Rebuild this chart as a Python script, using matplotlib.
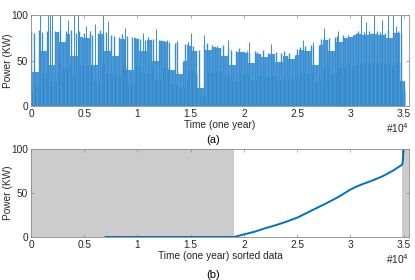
import numpy as np
import matplotlib.pyplot as plt

# (a) power, one value every 250 samples
step_a = 250
power_a = [82, 80, 37, 83, 81, 60, 82, 84, 45, 82,
           81, 84, 70, 82, 79, 83, 55, 80, 82, 76,
           80, 75, 82, 78, 45, 80, 84, 79, 81, 60,
           78, 77, 55, 76, 79, 74, 77, 40, 76, 75,
           75, 74, 60, 73, 76, 72, 74, 50, 72, 73,
           71, 72, 70, 40, 69, 71, 35, 50, 68, 70,
           67, 66, 60, 62, 20, 68, 69, 62, 67, 65,
           66, 64, 67, 55, 63, 62, 45, 60, 64, 59,
           59, 60, 58, 47, 60, 59, 57, 61, 54, 58,
           58, 57, 59, 48, 58, 60, 55, 58, 52, 56,
           63, 65, 62, 66, 60, 67, 66, 45, 67, 74,
           76, 72, 75, 60, 76, 77, 70, 78, 75, 78,
           76, 78, 80, 82, 79, 81, 78, 82, 80, 79,
           82, 81, 78, 80, 83, 75, 81, 80, 82, 80,
           28]
# isolated peaks sticking out of the band
spike_t = [800, 1600, 1800, 2000, 2700, 3500, 4000, 4400, 5200, 6000, 6800, 7200,
           8800, 10500, 11700, 15000, 16200, 18500, 20500, 22500, 25500, 26500,
           27500, 28800, 31000, 31500, 32200, 33000, 33500, 34000, 34300, 34700]
spike_p = [100, 100, 100, 100, 100, 95, 100, 100, 88, 90, 100, 93,
           86, 80, 85, 80, 78, 72, 70, 68, 72, 70,
           86, 82, 100, 92, 100, 95, 100, 100, 88, 100]

# (b) sorted data
sorted_t = [7000, 19070, 20000, 21000, 22000, 23000, 24000, 25000, 26000, 27000,
            28000, 29000, 30000, 30500, 31000, 32000, 33000, 34000, 34870, 34930, 34960]
sorted_p = [0, 0, 3, 6, 10, 13.5, 17.5, 22, 28, 34,
            40, 46.5, 54, 57, 59.5, 64, 69, 75.5, 82.5, 88, 100]
shade_spans = [(0, 19070), (34870, 35600)]

blue = '#0072BD'
edge = '#8c8c8c'
ink = '#262626'
plt.rcParams['font.family'] = 'Liberation Sans'
plt.rcParams['font.size'] = 7.3

fig = plt.figure(figsize=(4.15, 2.8), dpi=100)
ax1 = fig.add_axes([0.0747, 0.6214, 0.911, 0.325])
ax2 = fig.add_axes([0.0747, 0.1536, 0.911, 0.314])

t_a = np.arange(len(power_a)) * step_a
p_a = np.array(power_a)
low_a = np.minimum(p_a, np.minimum(np.roll(p_a, 1), np.roll(p_a, -1)))
ax1.fill_between(t_a, 0, low_a, step='mid', color='#529cd7', lw=0)
ax1.vlines(t_a, 0, p_a, color='#3b8fd0', lw=1.0)
ax1.vlines(t_a + step_a / 2, 0, low_a * 0.6, color=blue, lw=0.5, alpha=0.45)
ax1.vlines(spike_t, 0, spike_p, color='#3a8ed0', lw=0.7)

for a, b in shade_spans:
    ax2.axvspan(a, b, color='#cccccc', lw=0)
ax2.plot(sorted_t, sorted_p, color=blue, lw=1.4)

for ax in (ax1, ax2):
    ax.set_xlim(0, 35500)
    ax.set_ylim(0, 100)
    ax.set_xticks([0, 5000, 10000, 15000, 20000, 25000, 30000, 35000])
    ax.set_xticklabels(['0', '0.5', '1', '1.5', '2', '2.5', '3', '3.5'])
    ax.set_yticks([0, 50, 100])
    ax.tick_params(direction='in', length=2, width=0.5, color=edge,
                   labelcolor=ink, pad=2, top=True, right=True)
    for s in ax.spines.values():
        s.set_color(edge)
        s.set_linewidth(0.6)
    ax.set_ylabel('Power (KW)', color=ink)
    ax.yaxis.set_label_coords(-0.048, 0.5)
    ax.text(1.0, -0.17, '#10$^4$', transform=ax.transAxes, ha='right',
            va='top', color=ink)

ax1.set_xlabel('Time (one year)', color=ink, labelpad=1)
ax2.set_xlabel('Time (one year) sorted data', color=ink, labelpad=1)
fig.text(0.513, 0.5, '(a)', ha='center', va='center', fontsize=8)
fig.text(0.513, 0.018, '(b)', ha='center', va='center', fontsize=8)

fig.savefig('out.png', dpi=100)
